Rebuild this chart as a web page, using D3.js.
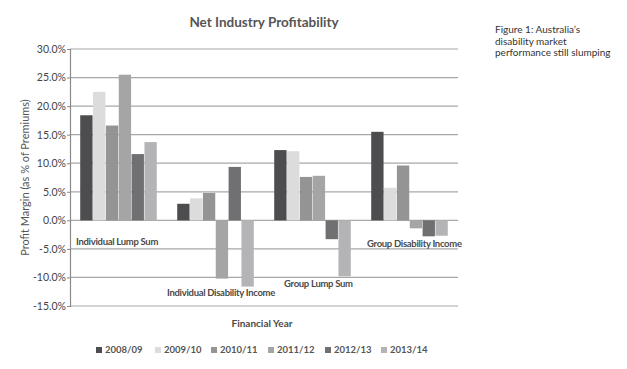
<!DOCTYPE html>
<html lang="en">
<head>
<meta charset="UTF-8">
<title>Net Industry Profitability</title>
<script src="https://d3js.org/d3.v7.min.js"></script>
<style>
  body { margin: 0; background: #fff; }
  text { font-family: Lato, "Open Sans", sans-serif; fill: #4a4a4a; }
</style>
</head>
<body>
<div id="chart-container"></div>
<script>
const categories = ["Individual Lump Sum", "Individual Disability Income", "Group Lump Sum", "Group Disability Income"];
const years = ["2008/09", "2009/10", "2010/11", "2011/12", "2012/13", "2013/14"];
// one array per year, values per category (%)
const v2008 = [18.4, 2.9, 12.3, 15.5];
const v2009 = [22.5, 3.85, 12.1, 5.7];
const v2010 = [16.6, 4.8, 7.6, 9.6];
const v2011 = [25.5, -10.2, 7.8, -1.4];
const v2012 = [11.6, 9.35, -3.3, -2.8];
const v2013 = [13.7, -11.6, -9.8, -2.7];
const yTicks = [30, 25, 20, 15, 10, 5, 0, -5, -10, -15];

const seriesValues = [v2008, v2009, v2010, v2011, v2012, v2013];
const colors = ["#4d4d4f", "#dcdcdc", "#949494", "#a5a5a5", "#707072", "#b4b4b6"];

const W = 627, H = 369;
const margin = { top: 49, right: 169, bottom: 63, left: 70 };
const width = W - margin.left - margin.right;
const height = H - margin.top - margin.bottom;

const svg = d3.select("#chart-container").append("svg")
  .attr("width", W).attr("height", H);

const g = svg.append("g")
  .attr("transform", "translate(" + margin.left + "," + margin.top + ")");

const x0 = d3.scaleBand().domain(categories).range([0, width]).paddingInner(0.2).paddingOuter(0.1);
const x1 = d3.scaleBand().domain(years).range([0, x0.bandwidth()]).padding(0.04);
const y = d3.scaleLinear().domain([-15, 30]).range([height, 0]);

// gridlines
g.selectAll(".grid").data(yTicks).enter().append("line")
  .attr("x1", 0).attr("x2", width)
  .attr("y1", d => y(d)).attr("y2", d => y(d))
  .attr("stroke", "#a8a8a8").attr("stroke-width", 1.2);

// bars
const rows = categories.map((c, i) => ({ cat: c, vals: years.map((yr, j) => ({ yr: yr, v: seriesValues[j][i], j: j })) }));
const grp = g.selectAll(".grp").data(rows).enter().append("g")
  .attr("transform", d => "translate(" + x0(d.cat) + ",0)");
grp.selectAll("rect").data(d => d.vals).enter().append("rect")
  .attr("x", d => x1(d.yr))
  .attr("width", x1.bandwidth())
  .attr("y", d => y(Math.max(0, d.v)))
  .attr("height", d => Math.abs(y(d.v) - y(0)))
  .attr("fill", d => colors[d.j]);

// y axis
const yAxis = g.append("g")
  .call(d3.axisLeft(y).tickValues(yTicks).tickSize(3).tickFormat(d => d.toFixed(1) + "%"));
yAxis.select(".domain").attr("stroke", "#8a8a8a").attr("stroke-width", 1.2);
yAxis.selectAll(".tick line").attr("stroke", "#8a8a8a");
yAxis.selectAll(".tick text").attr("x", -4).style("font-size", "10.5px").style("fill", "#444");

// category labels (placed as in the original)
const labelPos = [
  { dx: -42.5, v: -4.3 },
  { dx: -48.5, v: -13.25 },
  { dx: -28.5, v: -11.7 },
  { dx: -42.5, v: -4.7 }
];
categories.forEach((c, i) => {
  g.append("text")
    .attr("x", x0(c) + x0.bandwidth() / 2 + labelPos[i].dx)
    .attr("y", y(labelPos[i].v))
    .style("font-size", "9.5px")
    .style("font-weight", "bold")
    .style("letter-spacing", "-0.3px")
    .text(c);
});

// title
svg.append("text")
  .attr("x", 264).attr("y", 27)
  .attr("text-anchor", "middle")
  .style("font-size", "13.5px").style("font-weight", "bold").style("fill", "#555")
  .text("Net Industry Profitability");

// axis titles
svg.append("text")
  .attr("transform", "translate(29," + (margin.top + y(7.5)) + ") rotate(-90)")
  .attr("text-anchor", "middle")
  .style("font-size", "11px").style("fill", "#555")
  .text("Profit Margin (as % of Premiums)");

svg.append("text")
  .attr("x", 262).attr("y", 327)
  .attr("text-anchor", "middle")
  .style("font-size", "10px").style("font-weight", "bold")
  .text("Financial Year");

// legend
const legendX = [96, 155, 211, 268, 325, 381];
const leg = svg.selectAll(".leg").data(years).enter().append("g")
  .attr("transform", (d, i) => "translate(" + legendX[i] + ",353)");
leg.append("rect").attr("x", 0).attr("y", -6).attr("width", 6).attr("height", 6)
  .attr("fill", (d, i) => colors[i]);
leg.append("text").attr("x", 9).attr("y", 0)
  .style("font-size", "9.5px").style("font-weight", "bold").style("fill", "#555")
  .text(d => d);

// side note
const note = ["Figure 1: Australia’s", "disability market", "performance still slumping"];
svg.selectAll(".note").data(note).enter().append("text")
  .attr("x", 495).attr("y", (d, i) => 33 + i * 11.5)
  .style("font-size", "10px").style("fill", "#333")
  .text(d => d);
</script>
</body>
</html>
